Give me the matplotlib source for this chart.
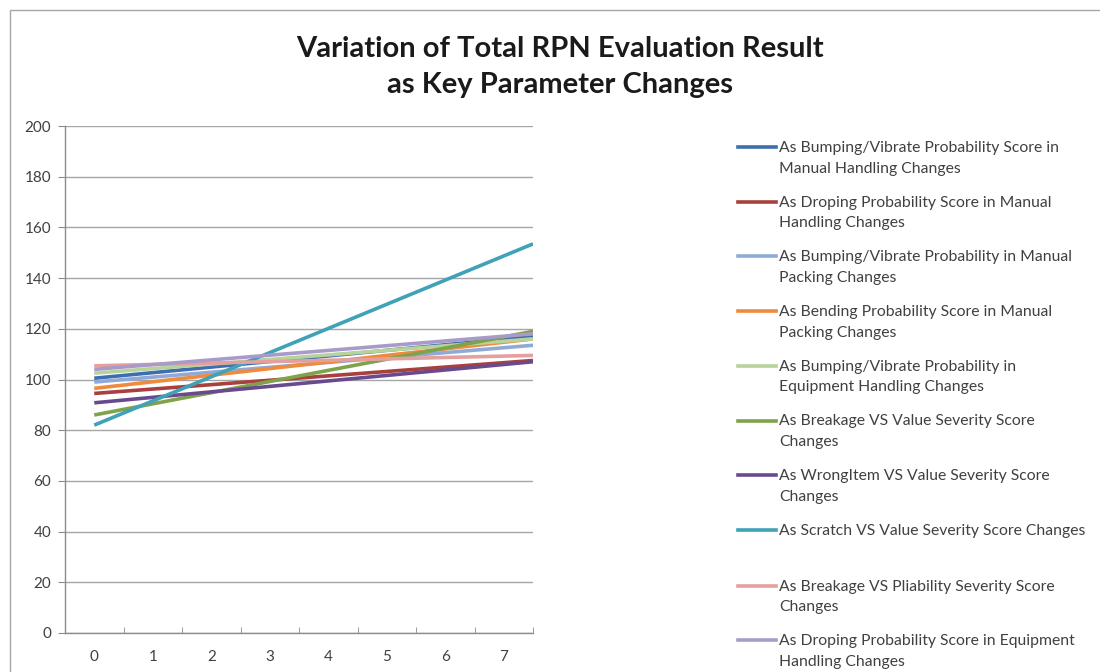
import matplotlib.pyplot as plt
from matplotlib.lines import Line2D
from matplotlib.patches import Rectangle

plt.rcParams['font.family'] = ['Lato', 'DejaVu Sans']

# data: each series is a straight line, value at start and at end
x_pos = [0, 7.5]
categories = [0, 1, 2, 3, 4, 5, 6, 7]
labels = [
    'As Bumping/Vibrate Probability Score in\nManual Handling Changes',
    'As Droping Probability Score in Manual\nHandling Changes',
    'As Bumping/Vibrate Probability in Manual\nPacking Changes',
    'As Bending Probability Score in Manual\nPacking Changes',
    'As Bumping/Vibrate Probability in\nEquipment Handling Changes',
    'As Breakage VS Value Severity Score\nChanges',
    'As WrongItem VS Value Severity Score\nChanges',
    'As Scratch VS Value Severity Score Changes',
    'As Breakage VS Pliability Severity Score\nChanges',
    'As Droping Probability Score in Equipment\nHandling Changes',
]
start_vals = [100.5, 94.5, 99.0, 96.5, 102.5, 86.0, 90.8, 82.0, 105.4, 104.0]
end_vals = [117.0, 107.5, 113.5, 116.0, 116.0, 119.0, 107.0, 153.5, 109.5, 118.0]
colors = ['#3E6DB0', '#A8403D', '#8FAAD8', '#F08A3C', '#B7D39C',
          '#7FA34B', '#6A4A8E', '#3FA2B8', '#E3A09E', '#A99BC9']

fig = plt.figure(figsize=(11, 6.72), dpi=100)
fig.patches.append(Rectangle((10 / 1100, -0.1), 1.2, 1 - 10 / 672 + 0.1,
                             transform=fig.transFigure, fill=False,
                             edgecolor='#A6A6A6', linewidth=1))
ax = fig.add_axes([65 / 1100, 1 - 633 / 672, (533 - 65) / 1100, (633 - 126) / 672])

for s, e, c in zip(start_vals, end_vals, colors):
    ax.plot(x_pos, [s, e], color=c, linewidth=2.6, solid_capstyle='butt')

ax.set_xlim(-0.5, 7.5)
ax.set_ylim(0, 200)
ax.set_yticks(range(0, 201, 20))
ax.set_xticks(categories)
ax.set_xticks([i - 0.5 for i in range(9)], minor=True)
ax.tick_params(axis='x', which='major', length=0, pad=12, labelsize=11, labelcolor='#404040')
ax.tick_params(axis='x', which='minor', length=4, color='#8C8C8C', direction='in')
ax.tick_params(axis='y', length=5, color='#8C8C8C', pad=5, labelsize=11, labelcolor='#404040')
ax.grid(axis='y', color='#A6A6A6', linewidth=1)
ax.set_axisbelow(True)
for side in ['top', 'right']:
    ax.spines[side].set_visible(False)
for side in ['left', 'bottom']:
    ax.spines[side].set_color('#8C8C8C')
    ax.spines[side].set_linewidth(1)

fig.text(560 / 1100, 1 - 67 / 672, 'Variation of Total RPN Evaluation Result\nas Key Parameter Changes',
         ha='center', va='center', fontsize=21, fontweight='bold', color='#1A1A1A', linespacing=1.5)

# legend drawn entry by entry, like the Excel layout
for i, (lab, c) in enumerate(zip(labels, colors)):
    yc = 147 + i * 54.7
    if i >= 8:
        yc += 1
    fy = 1 - yc / 672
    fig.add_artist(Line2D([738 / 1100, 776 / 1100], [fy, fy], color=c, linewidth=2.6,
                          transform=fig.transFigure))
    fig.text(779 / 1100, 1 - (yc - 6) / 672, lab, ha='left', va='top',
             fontsize=11.3, color='#404040', linespacing=1.6)

fig.savefig('out.png', dpi=100)
